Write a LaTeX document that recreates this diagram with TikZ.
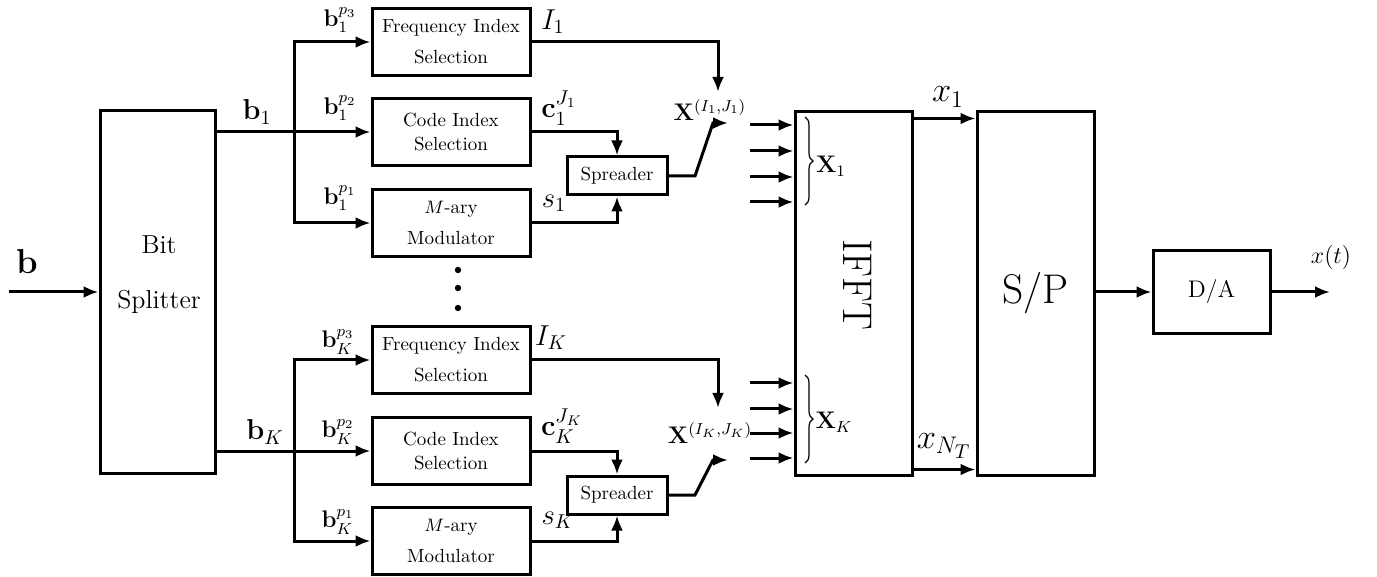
\documentclass[tikz,border=0pt]{standalone}
\usepackage{amsmath}
\usetikzlibrary{arrows.meta}
\usetikzlibrary{positioning,decorations.pathreplacing}

\begin{document}
\begin{tikzpicture}[x=0.5pt,y=-0.5pt,line width=1.5pt,
  block/.style={draw,line width=1.5pt,inner sep=0pt,align=center},
  inner/.style={block,font=\fontsize{9.5}{11.5}\selectfont,minimum width=79pt,minimum height=33.5pt},
  sig/.style={-{Latex[length=7.5pt,width=6pt]}},
  lbl/.style={font=\large,inner sep=0pt},
  big/.style={font=\Large,inner sep=0pt},
  brc/.style={decorate,decoration={brace,amplitude=4pt},line width=0.6pt}]

\useasboundingbox (0,0) rectangle (1377,577);

% bit splitter
\node[block,minimum width=57.5pt,minimum height=181pt] (split) at (157.5,292) {};
\node[align=center,font=\fontsize{13}{15}\selectfont] (splitlbl) at (159,275) {Bit\\[12.5pt]Splitter};
\coordinate (in) at (9,292);
\draw[sig] (in) -- (split.west);
\node[lbl,font=\LARGE] (lb) at (27,262) {$\mathbf{b}$};

% branch 1 blocks
\node[inner] (freq1) at (451,42) {Frequency Index\\[4pt]Selection};
\node[inner] (code1) at (451,132) {Code Index\\[0.5pt]Selection};
\node[inner] (mod1) at (451,223) {$M$-ary\\[4pt]Modulator};
\node[block,font=\fontsize{9.5}{11.5}\selectfont,minimum width=50pt,minimum height=19pt] (spr1) at (617,176) {Spreader};

% branch K blocks
\node[inner] (freqK) at (451,360) {Frequency Index\\[4pt]Selection};
\node[inner] (codeK) at (451,451) {Code Index\\[0.5pt]Selection};
\node[inner] (modK) at (451,541) {$M$-ary\\[4pt]Modulator};
\node[block,font=\fontsize{9.5}{11.5}\selectfont,minimum width=50pt,minimum height=19pt] (sprK) at (617,495) {Spreader};

% dots
\foreach \y in {270,288,308}
  \fill (458,\y) circle (1.6pt);

% splitter outputs
\coordinate (br1) at (294,132);
\coordinate (brK) at (294,451);
\draw[sig] (split.east |- code1.west) -- (code1.west);
\draw[sig] (br1) |- (freq1.west);
\draw[sig] (br1) |- (mod1.west);
\draw[sig] (split.east |- codeK.west) -- (codeK.west);
\draw[sig] (brK) |- (freqK.west);
\draw[sig] (brK) |- (modK.west);

\node[big] (lb1) at (257,112) {$\mathbf{b}_1$};
\node[lbl] (lp13) at (340,20) {$\mathbf{b}_1^{p_3}$};
\node[lbl] (lp12) at (340,108) {$\mathbf{b}_1^{p_2}$};
\node[lbl] (lp11) at (340,198) {$\mathbf{b}_1^{p_1}$};
\node[big] (lbK) at (265,432) {$\mathbf{b}_K$};
\node[lbl] (lpK3) at (338,342) {$\mathbf{b}_K^{p_3}$};
\node[lbl] (lpK2) at (338,432) {$\mathbf{b}_K^{p_2}$};
\node[lbl] (lpK1) at (338,522) {$\mathbf{b}_K^{p_1}$};

% branch 1 to spreader and switch
\coordinate (tip1) at (718,92);
\coordinate (sw1a) at (695,176);
\coordinate (sw1b) at (713,123);
\coordinate (sw1c) at (728,123);
\draw[sig] (freq1.east) -| (tip1);
\draw[sig] (code1.east) -| (spr1.north);
\draw[sig] (mod1.east) -| (spr1.south);
\draw[sig] (spr1.east) -- (sw1a) -- (sw1b) -- (sw1c);

\node[big] (lI1) at (553,22) {$I_1$};
\node[big] (lc1) at (559,108) {$\mathbf{c}_1^{J_1}$};
\node[big] (ls1) at (554,203) {$s_1$};
\node[lbl] (lX1) at (710,110) {$\mathbf{X}^{(I_1,J_1)}$};

% branch K to spreader and switch
\coordinate (tipK) at (718,408);
\coordinate (swKa) at (695,495);
\coordinate (swKb) at (713,460);
\coordinate (swKc) at (728,460);
\draw[sig] (freqK.east) -| (tipK);
\draw[sig] (codeK.east) -| (sprK.north);
\draw[sig] (modK.east) -| (sprK.south);
\draw[sig] (sprK.east) -- (swKa) -- (swKb) -- (swKc);

\node[big] (lIK) at (551,338) {$I_K$};
\node[big] (lcK) at (562,426) {$\mathbf{c}_K^{J_K}$};
\node[big] (lsK) at (558,520) {$s_K$};
\node[lbl] (lXK) at (710,433) {$\mathbf{X}^{(I_K,J_K)}$};

% IFFT
\node[block,minimum width=58.5pt,minimum height=181.5pt] (ifft) at (853.5,293.5) {};
\node[rotate=-90,font=\huge] (ifftlbl) at (858,285) {IFFT};
\foreach \y [count=\i] in {125,151,177,202,383,409,433,458}{
  \coordinate (fin\i) at (750,\y);
  \draw[sig] (fin\i) -- (fin\i -| ifft.west);
}
\draw[brc] (805,117) -- (805,205);
\draw[brc] (805,375) -- (805,463);
\node[lbl] (lXX1) at (831,166) {$\mathbf{X}_1$};
\node[lbl] (lXXK) at (834,422) {$\mathbf{X}_K$};

% S/P
\node[block,minimum width=58.5pt,minimum height=181.5pt,font=\huge] (sp) at (1035.5,293.5) {S/P};
\draw[sig] ([yshift=-4pt]ifft.north east) -- ([yshift=-4pt]sp.north west);
\draw[sig] ([yshift=3.5pt]ifft.south east) -- ([yshift=3.5pt]sp.south west);
\node[lbl,font=\LARGE] (lx1) at (948,97) {$x_1$};
\node[lbl,font=\LARGE] (lxN) at (944,446) {$x_{N_T}$};

% D/A
\node[block,minimum width=58.5pt,minimum height=41.5pt,font=\large] (da) at (1211.5,292) {D/A};
\coordinate (out) at (1330,292);
\draw[sig] (sp.east |- da.west) -- (da.west);
\draw[sig] (da.east) -- (out);
\node[lbl] (lxt) at (1331,258) {$x(t)$};

\end{tikzpicture}
\end{document}
